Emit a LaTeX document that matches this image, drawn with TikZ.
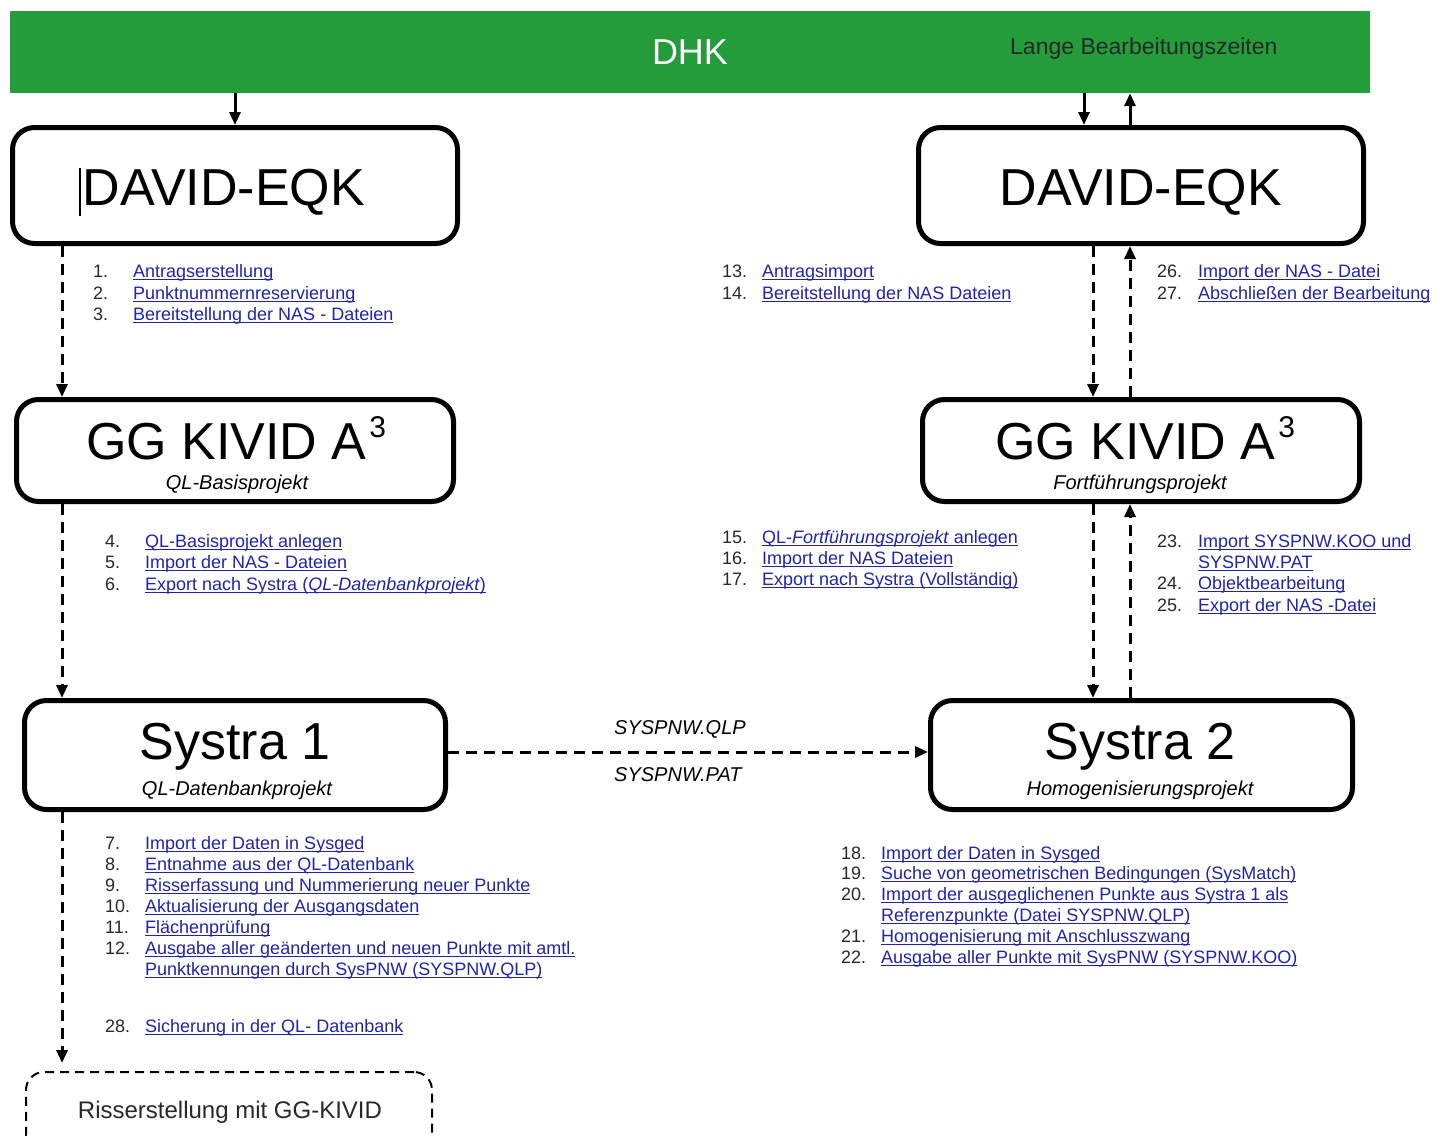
\documentclass[tikz,border=0pt]{standalone}
\usepackage{fontspec}
\setmainfont{Liberation Sans}
\usetikzlibrary{arrows.meta,calc}
\definecolor{dhkgreen}{RGB}{36,156,58}
\definecolor{linkblue}{RGB}{32,36,168}
\definecolor{numgray}{RGB}{40,40,40}
\newcommand{\fsz}[1]{\fontsize{#1}{#1}\selectfont}
\newcommand{\ulink}[1]{\setbox0\hbox{#1}\rlap{\rule[-3pt]{\wd0}{1pt}}\box0}
\newcommand{\litem}[6]{%
  \node[itemnum] (n#1) at (#2,#4) {#5};
  \node[itemtxt] (t#1) at (#3,#4) {\ulink{#6}};}
\newcommand{\lcont}[4]{%
  \node[itemtxt] (t#1) at (#2,#3) {\ulink{#4}};}
\tikzset{
  procbox/.style={draw, line width=5pt, rounded corners=22pt, inner sep=0pt, fill=white},
  flow/.style={-{Triangle[length=13pt,width=11pt]}, line width=3pt},
  dflow/.style={flow, dash pattern=on 11pt off 7pt},
  itemnum/.style={anchor=base west, inner sep=0pt, text=numgray, font=\fsz{18}},
  itemtxt/.style={anchor=base west, inner sep=0pt, text=linkblue, font=\fsz{18}},
  bigtitle/.style={anchor=base, inner sep=0pt, font=\fsz{52}},
  subtitle/.style={anchor=base, inner sep=0pt, font=\fsz{20}\itshape},
}
\begin{document}
\begin{tikzpicture}[x=1pt,y=-1pt]
\useasboundingbox (0,0) rectangle (1449,1136);

% green bar
\node[fill=dhkgreen, minimum width=1360pt, minimum height=82pt, inner sep=0pt] (bar) at (690,52) {};
\node[anchor=base, inner sep=0pt, text=white, font=\fsz{36}] (dhk) at (690,64) {DHK};
\node[anchor=base west, inner sep=0pt, text=numgray, font=\fsz{23}] (lange) at (1010,54) {Lange Bearbeitungszeiten};

% boxes
\node[procbox, minimum width=445pt, minimum height=116pt] (dl) at (235,185.5) {};
\node[procbox, minimum width=445pt, minimum height=116pt] (dr) at (1141,185.5) {};
\node[procbox, minimum width=437pt, minimum height=102pt] (gl) at (235,450.5) {};
\node[procbox, minimum width=437pt, minimum height=102pt] (gr) at (1141,450.5) {};
\node[procbox, minimum width=421pt, minimum height=109pt] (s1) at (235,755) {};
\node[procbox, minimum width=422pt, minimum height=109pt] (s2) at (1141.5,755) {};
\node[draw, line width=2pt, dash pattern=on 9pt off 6pt, rounded corners=18pt, inner sep=0pt,
      minimum width=406pt, minimum height=80pt] (rb) at (229,1112) {};

% titles
\node[bigtitle] (dlt) at (224,205) {DAVID-EQK};
\draw[line width=1.2pt] (80,168) -- (80,216);
\node[bigtitle] (drt) at (1141,205) {DAVID-EQK};
\node[bigtitle] (glt) at (236,459) {GG KIVID A\hspace{3pt}\raisebox{22pt}{\fsz{30}3}};
\node[subtitle] (gls) at (237,489) {QL-Basisprojekt};
\node[bigtitle] (grt) at (1145,459) {GG KIVID A\hspace{3pt}\raisebox{22pt}{\fsz{30}3}};
\node[subtitle] (grs) at (1140,489) {Fortführungsprojekt};
\node[bigtitle] (s1t) at (235,759) {Systra 1};
\node[subtitle] (s1s) at (237,795) {QL-Datenbankprojekt};
\node[bigtitle] (s2t) at (1140,759) {Systra 2};
\node[subtitle] (s2s) at (1140,795) {Homogenisierungsprojekt};
\node[anchor=base, inner sep=0pt, font=\fsz{24}, text=numgray] (rbt) at (230,1118) {Risserstellung mit GG-KIVID};

% helper x positions
\coordinate (xl) at (62,0);
\coordinate (xd) at (1093,0);
\coordinate (xu) at (1130,0);
\coordinate (xb) at (1084,0);

% connectors
\draw[flow] (bar.south -| dl.north) -- (dl.north);
\draw[flow] (bar.south -| xb) -- (dr.north -| xb);
\draw[flow] (dr.north -| xu) -- (bar.south -| xu);
\draw[dflow] (dl.south -| xl) -- (gl.north -| xl);
\draw[dflow] (gl.south -| xl) -- (s1.north -| xl);
\draw[dflow, shorten >=8pt] (s1.south -| xl) -- (rb.north -| xl);
\draw[dflow] (dr.south -| xd) -- (gr.north -| xd);
\draw[dflow] (gr.north -| xu) -- (dr.south -| xu);
\draw[dflow] (gr.south -| xd) -- (s2.north -| xd);
\draw[dflow] (s2.north -| xu) -- (gr.south -| xu);
\draw[dflow] (s1.east |- 0,752) -- (s2.west |- 0,752);

\node[anchor=base west, inner sep=0pt, font=\fsz{20}\itshape] (lq) at (614,734) {SYSPNW.QLP};
\node[anchor=base west, inner sep=0pt, font=\fsz{20}\itshape] (lp) at (614,781) {SYSPNW.PAT};

% lists
\litem{1}{93}{133}{277}{1.}{Antragserstellung}
\litem{2}{93}{133}{299}{2.}{Punktnummernreservierung}
\litem{3}{93}{133}{320}{3.}{Bereitstellung der NAS - Dateien}

\litem{13}{722}{762}{277}{13.}{Antragsimport}
\litem{14}{722}{762}{299}{14.}{Bereitstellung der NAS Dateien}

\litem{26}{1157}{1198}{277}{26.}{Import der NAS - Datei}
\litem{27}{1157}{1198}{299}{27.}{Abschließen der Bearbeitung}

\litem{4}{105}{145}{547}{4.}{QL-Basisprojekt anlegen}
\litem{5}{105}{145}{568}{5.}{Import der NAS - Dateien}
\litem{6}{105}{145}{590}{6.}{Export nach Systra (\textit{QL-Datenbankprojekt})}

\litem{15}{722}{762}{543}{15.}{QL-\textit{Fortführungsprojekt} anlegen}
\litem{16}{722}{762}{564}{16.}{Import der NAS Dateien}
\litem{17}{722}{762}{585}{17.}{Export nach Systra (Vollständig)}

\litem{23}{1157}{1198}{547}{23.}{Import SYSPNW.KOO und}
\lcont{23b}{1198}{568}{SYSPNW.PAT}
\litem{24}{1157}{1198}{589}{24.}{Objektbearbeitung}
\litem{25}{1157}{1198}{611}{25.}{Export der NAS -Datei}

\litem{7}{105}{145}{849}{7.}{Import der Daten in Sysged}
\litem{8}{105}{145}{870}{8.}{Entnahme aus der QL-Datenbank}
\litem{9}{105}{145}{891}{9.}{Risserfassung und Nummerierung neuer Punkte}
\litem{10}{105}{145}{912}{10.}{Aktualisierung der Ausgangsdaten}
\litem{11}{105}{145}{933}{11.}{Flächenprüfung}
\litem{12}{105}{145}{954}{12.}{Ausgabe aller geänderten und neuen Punkte mit amtl.}
\lcont{12b}{145}{975}{Punktkennungen durch SysPNW (SYSPNW.QLP)}
\litem{28}{105}{145}{1032}{28.}{Sicherung in der QL- Datenbank}

\litem{18}{841}{881}{859}{18.}{Import der Daten in Sysged}
\litem{19}{841}{881}{879}{19.}{Suche von geometrischen Bedingungen (SysMatch)}
\litem{20}{841}{881}{900}{20.}{Import der ausgeglichenen Punkte aus Systra 1 als}
\lcont{20b}{881}{921}{Referenzpunkte (Datei SYSPNW.QLP)}
\litem{21}{841}{881}{942}{21.}{Homogenisierung mit Anschlusszwang}
\litem{22}{841}{881}{963}{22.}{Ausgabe aller Punkte mit SysPNW (SYSPNW.KOO)}
\end{tikzpicture}
\end{document}
